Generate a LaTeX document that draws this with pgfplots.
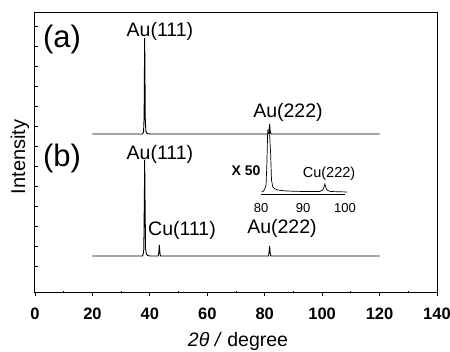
\documentclass[border=0pt]{standalone}
\usepackage{pgfplots}
\pgfplotsset{compat=1.18}
\usepackage{fontspec}
\setmainfont{Liberation Sans}
\begin{document}
\begin{tikzpicture}
\begin{axis}[
  name=main,
  at={(0,0)}, anchor=south west,
  scale only axis, width=402pt, height=280pt,
  xmin=0, xmax=140, ymin=0, ymax=280,
  xtick={0,20,...,140},
  xtick pos=bottom, ytick pos=left,
  x tick label style={font=\fontsize{16.5}{16.5}\selectfont\bfseries, anchor=center, yshift=-17.5pt},
  /pgf/number format/assume math mode=true,
  tick align=outside, major tick length=3pt,
  ytick={27,47,...,267}, yticklabels={},
  y tick style={xshift=3pt},
  extra x ticks={10,30,...,130}, extra x tick labels={},
  extra x tick style={tick align=inside, major tick length=2pt},
  axis line style={line width=1pt},
  tick style={line width=0.8pt, black},
  xlabel={\fontsize{19.5}{19.5}\selectfont\textit{2θ / }degree},
  ylabel={\fontsize{20}{20}\selectfont Intensity},
  xlabel style={at={(axis description cs:0.505,-0.172)}, anchor=center},
  ylabel style={at={(axis description cs:-0.0373,0.486)}, anchor=center},
  clip=false,
]
\addplot[black, line width=0.9pt] coordinates {
 (20,159) (30,159) (37.5,159) (37.8,161) (38.0,175) (38.1,220) (38.2,255) (38.3,220) (38.4,175) (38.6,162) (39.0,159.5) (40,159)
 (60,159) (81.2,159) (81.5,162) (81.7,169) (81.9,162) (82.2,159) (100,159) (120,159)
};
\addplot[black, line width=0.9pt] coordinates {
 (20,37) (30,37) (37.4,37) (37.7,39) (37.9,44) (38.1,100) (38.2,133) (38.3,100) (38.5,44) (38.8,39) (39.2,37.5) (40,37)
 (42.9,37) (43.1,40) (43.3,48) (43.5,40) (43.7,37) (60,37) (81.3,37) (81.5,40) (81.7,47) (81.9,40) (82.1,37) (100,37) (120,37)
};
\node[font=\fontsize{31}{31}\selectfont] at (axis cs:9.4,254) {(a)};
\node[font=\fontsize{31}{31}\selectfont] at (axis cs:9.4,135) {(b)};
\node[font=\fontsize{19.5}{19.5}\selectfont] at (axis cs:43.5,262) {Au(111)};
\node[font=\fontsize{19.5}{19.5}\selectfont] at (axis cs:88.1,181) {Au(222)};
\node[font=\fontsize{19.5}{19.5}\selectfont] at (axis cs:43.5,139) {Au(111)};
\node[font=\fontsize{19.5}{19.5}\selectfont] at (axis cs:51.2,63) {Cu(111)};
\node[font=\fontsize{19.5}{19.5}\selectfont] at (axis cs:86.0,65) {Au(222)};
\node[font=\fontsize{14}{14}\selectfont\bfseries] at (axis cs:73.5,122) {X 50};
\node[font=\fontsize{14.5}{14.5}\selectfont] at (axis cs:102.4,119) {Cu(222)};
\end{axis}
\begin{axis}[
  at={(226pt,99pt)}, anchor=south west,
  scale only axis, width=84pt, height=70pt,
  xmin=80, xmax=100, ymin=0, ymax=70,
  axis x line=bottom, axis y line=none,
  x axis line style={-, line width=0.7pt},
  xtick={80,90,100}, major tick length=0pt,
  x tick label style={font=\fontsize{13}{13}\selectfont, anchor=center, yshift=-14pt},
  /pgf/number format/assume math mode=true,
  clip=false,
]
\addplot[black, line width=0.7pt] coordinates {
 (80.2,2) (80.6,3) (80.9,5) (81.2,9) (81.4,30) (81.6,64) (81.8,64) (82.0,64) (82.3,40) (82.5,14) (82.8,7) (83.3,5) (84,4) (86,3) (90,2.5) (94,2.5) (94.7,4) (95.0,7) (95.2,10) (95.4,7) (95.7,4) (96.5,2.5) (100.5,2)
};
\end{axis}
\pgfresetboundingbox
\useasboundingbox (-35pt,-59pt) rectangle (415pt,293pt);
\end{tikzpicture}
\end{document}
